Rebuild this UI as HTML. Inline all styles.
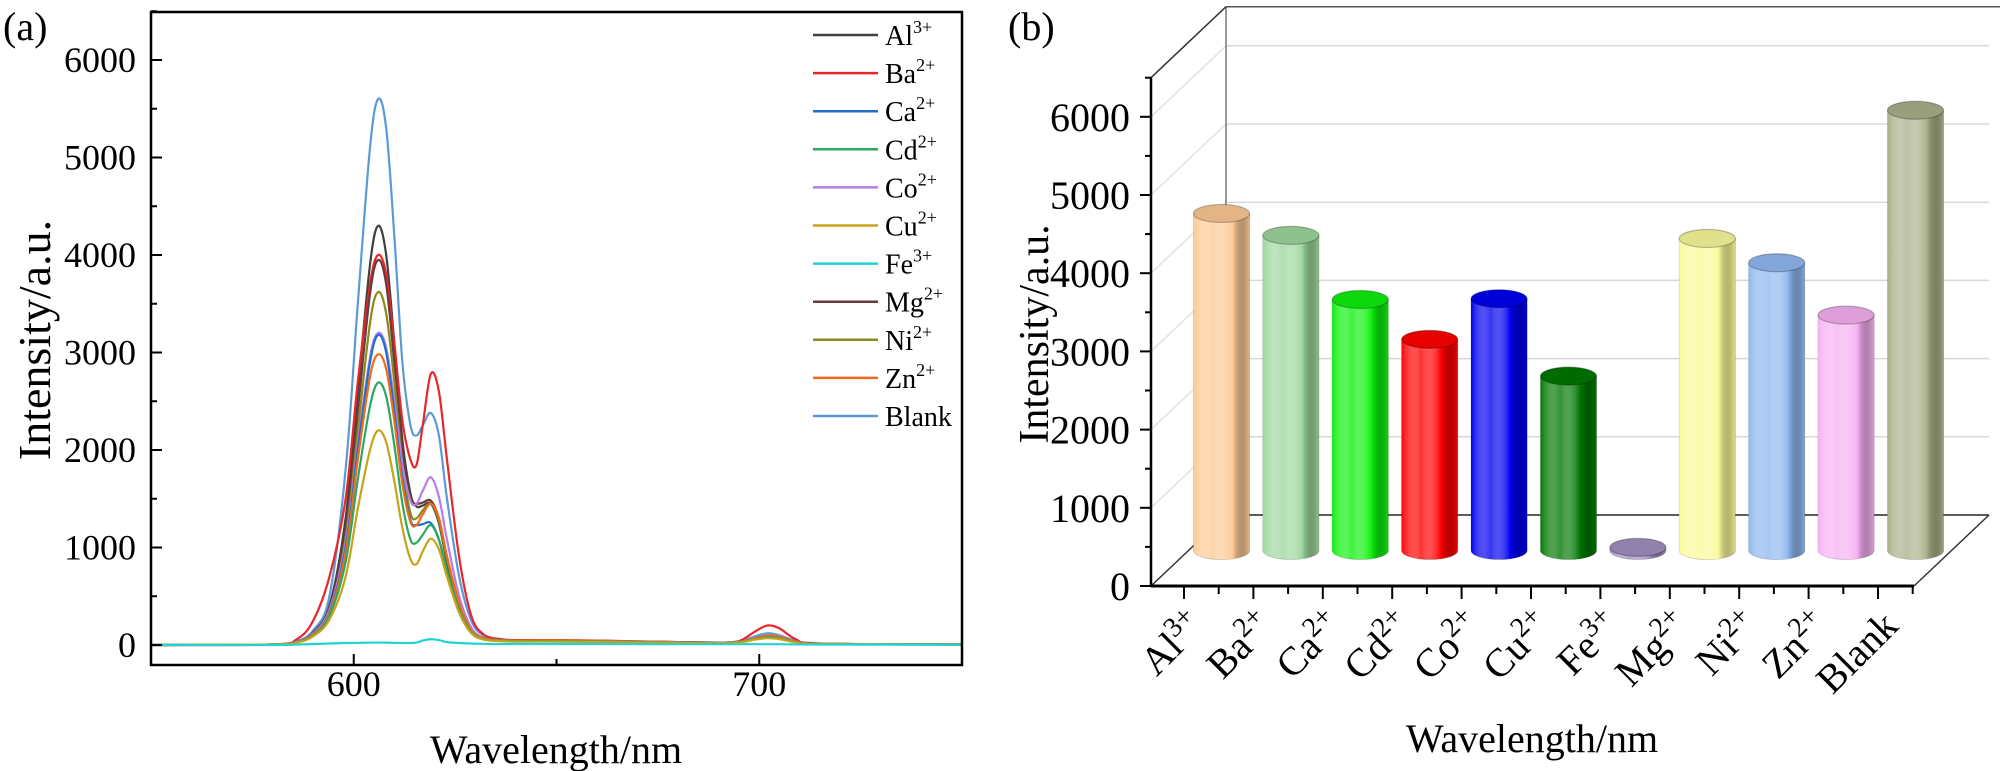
<!DOCTYPE html>
<html><head><meta charset="utf-8"><style>
html,body{margin:0;padding:0;background:#fff;}
svg{display:block;font-family:"Liberation Serif",serif;}
</style></head><body>
<svg id="fig" width="2000" height="771" viewBox="0 0 2000 771" xmlns="http://www.w3.org/2000/svg">
<defs id="defs"></defs>
<g id="panelA"></g>
<g id="panelB"></g>
</svg>
<script>
// ---------- Panel (a) data ----------
const wavelengths = [550,580,586,590,594,598,601,604,606,608,610,612,614,615.5,617,619,621,623,626,629,632,636,640,650,660,680,690,695,699,702,705,709,715,750];
const seriesNames = ["Al","Ba","Ca","Cd","Co","Cu","Fe","Mg","Ni","Zn","Blank"];
const seriesSup = ["3+","2+","2+","2+","2+","2+","3+","2+","2+","2+",""];
const seriesColors = ["#404040","#e8262b","#1f6fd0","#2ca862","#b57ee8","#c9a21a","#22d3d3","#6b3a3a","#8b8a1a","#f26a1b","#5b9bd5"];
const valAl = [0,5,35,130,400,1300,2600,3900,4300,4000,3100,2100,1550,1420,1430,1450,1250,850,400,150,70,50,45,45,40,30,25,30,60,80,70,35,12,5];
const valBa = [0,5,60,250,700,1500,2700,3700,4000,3800,3100,2300,1900,1850,2250,2780,2600,1900,900,300,110,60,50,50,45,30,25,40,140,200,170,60,15,5];
const valCa = [0,5,30,110,330,1000,2000,2900,3180,3000,2400,1700,1280,1230,1240,1250,1080,750,350,130,60,45,40,40,35,25,20,30,65,90,80,35,10,5];
const valCd = [0,5,30,100,300,850,1700,2450,2690,2550,2050,1450,1080,1050,1130,1230,1080,760,360,130,60,45,40,40,35,25,20,30,60,80,70,30,10,5];
const valCo = [0,5,35,120,360,1050,2050,2950,3200,3050,2500,1850,1480,1450,1580,1720,1520,1080,500,180,75,50,45,45,40,28,22,32,75,100,90,38,12,5];
const valCu = [0,5,25,90,260,700,1400,2000,2200,2080,1680,1200,880,830,960,1090,980,700,330,120,55,40,35,35,30,22,18,25,55,70,60,28,10,5];
const valFe = [0,0,5,10,15,20,22,25,25,25,22,20,20,25,45,60,50,30,20,15,12,10,10,10,10,8,8,8,8,8,8,6,5,3];
const valMg = [0,5,35,120,380,1200,2400,3600,3950,3700,2900,2000,1500,1450,1460,1480,1300,900,420,150,70,50,45,45,40,28,22,30,65,90,80,35,12,5];
const valNi = [0,5,30,110,340,1100,2200,3300,3620,3400,2700,1850,1350,1300,1380,1450,1280,880,410,145,65,48,42,42,38,26,20,30,65,85,75,32,10,5];
const valZn = [0,5,30,110,320,950,1900,2750,2980,2830,2300,1650,1260,1230,1340,1450,1300,910,430,150,70,50,45,48,42,28,22,32,70,95,85,35,12,5];
const valBlank = [0,5,40,150,500,1800,3500,5100,5600,5300,4200,2900,2250,2150,2250,2380,2150,1500,700,250,100,60,50,50,45,30,25,35,90,120,100,45,15,5];
const seriesValues = [valAl,valBa,valCa,valCd,valCo,valCu,valFe,valMg,valNi,valZn,valBlank];
const drawOrder = [10,0,1,7,8,4,2,9,3,5,6];
const yTicksA = [0,1000,2000,3000,4000,5000,6000];
const xTicksA = [600,700];

// ---------- Panel (b) data ----------
const barCategories = ["Al","Ba","Ca","Cd","Co","Cu","Fe","Mg","Ni","Zn","Blank"];
const barSup = ["3+","2+","2+","2+","2+","2+","3+","2+","2+","2+",""];
const barValues = [4310,4030,3210,2700,3220,2230,40,3990,3680,3010,5630];
const barColors = ["#fcc995","#9ed69e","#0ef00e","#ff0000","#0000f0","#007800","#a090c0","#fafa9a","#90b8f0","#f7b0f2","#aab08a"];
const yTicksB = [0,1000,2000,3000,4000,5000,6000];

const NS="http://www.w3.org/2000/svg";
function mk(tag, attrs, parent){const e=document.createElementNS(NS,tag);for(const k in attrs)e.setAttribute(k,attrs[k]);if(parent)parent.appendChild(e);return e;}

// ---------- Panel A ----------
const A=document.getElementById('panelA');
const AX0=151, AX1=962, AY0=12, AY1=665;
const xA=l=>AX0+(l-550)*(AX1-AX0)/200;
const yA=v=>645-v*0.0975;

let t=mk('text',{x:3,y:40,'font-size':40},A);t.textContent='(a)';



function smoothPath(pts){
  let d='M'+pts[0][0].toFixed(1)+','+pts[0][1].toFixed(1);
  for(let i=0;i<pts.length-1;i++){
    const p0=pts[Math.max(0,i-1)],p1=pts[i],p2=pts[i+1],p3=pts[Math.min(pts.length-1,i+2)];
    const c1x=p1[0]+(p2[0]-p0[0])/6,c1y=p1[1]+(p2[1]-p0[1])/6;
    const c2x=p2[0]-(p3[0]-p1[0])/6,c2y=p2[1]-(p3[1]-p1[1])/6;
    d+=' C'+c1x.toFixed(1)+','+c1y.toFixed(1)+' '+c2x.toFixed(1)+','+c2y.toFixed(1)+' '+p2[0].toFixed(1)+','+p2[1].toFixed(1);
  }
  return d;
}
const clipA=mk('clipPath',{id:'clipA'},document.getElementById('defs'));
mk('rect',{x:AX0,y:AY0,width:AX1-AX0,height:AY1-AY0},clipA);
const gS=mk('g',{'clip-path':'url(#clipA)'},A);


drawOrder.forEach(si=>{
  const pts=wavelengths.map((w,i)=>[xA(w),yA(seriesValues[si][i])]);
  const p=mk('path',{d:smoothPath(pts),fill:'none',stroke:seriesColors[si],'stroke-width':2.2},gS);
  
  
});

const fr=mk('rect',{x:AX0,y:AY0,width:AX1-AX0,height:AY1-AY0,fill:'none',stroke:'#000','stroke-width':2.5},A);


for(let v=0;v<=6500;v+=500){
  const major=v%1000===0;
  const tk=mk('line',{x1:AX0,x2:AX0+(major?11:6),y1:yA(v),y2:yA(v),stroke:'#000','stroke-width':2},A);
  
  
}
yTicksA.forEach(v=>{
  const l=mk('text',{x:136,y:yA(v)+12,'font-size':36,'text-anchor':'end'},A);l.textContent=v;
  
  
});
[600,650,700].forEach(v=>{
  const major=v%100===0;
  const tk=mk('line',{x1:xA(v),x2:xA(v),y1:AY1,y2:AY1-(major?11:6),stroke:'#000','stroke-width':2},A);
  
  
});
xTicksA.forEach(v=>{
  const l=mk('text',{x:xA(v),y:696,'font-size':36,'text-anchor':'middle'},A);l.textContent=v;
  
  
});
t=mk('text',{x:556,y:763,'font-size':40,'text-anchor':'middle'},A);t.textContent='Wavelength/nm';


t=mk('text',{x:0,y:0,'font-size':46,'text-anchor':'middle',transform:'translate(50,340) rotate(-90)'},A);t.textContent='Intensity/a.u.';



// legend
const lg=mk('g',{},A);


seriesNames.forEach((n,i)=>{
  const y=35+i*38.1;
  const g=mk('g',{},lg);
  
  
  mk('line',{x1:813,x2:878,y1:y,y2:y,stroke:seriesColors[i],'stroke-width':2.5},g);
  const tx=mk('text',{x:885,y:y+10,'font-size':28},g);
  tx.textContent=n;
  if(seriesSup[i]){const s=mk('tspan',{dy:-12,'font-size':18},tx);s.textContent=seriesSup[i];}
});

// ---------- Panel B ----------
const B=document.getElementById('panelB');
const FX0=1151, FX1=1914, FY0=586, DX=75, DY=-71;
const yB=v=>FY0-v*0.0782;
const catX=i=>1184+i*69.4;

t=mk('text',{x:1008,y:40,'font-size':40},B);t.textContent='(b)';



for(let v=1000;v<=6000;v+=1000){
  const gl=mk('line',{x1:FX0+DX,x2:FX1+DX,y1:yB(v)+DY,y2:yB(v)+DY,stroke:'#d8d8d8','stroke-width':1.5},B);
  
  
  const sl=mk('line',{x1:FX0,x2:FX0+DX,y1:yB(v),y2:yB(v)+DY,stroke:'#e2e2e2','stroke-width':1.5},B);
  
  
}
const boxLines=[
 [FX0+DX,yB(6500)+DY,FX0+DX,FY0+DY,'#777',1.5],
 [FX0+DX,yB(6500)+DY,2000,yB(6500)+DY,'#555',1.5],
 [FX0,yB(6500),FX0+DX,yB(6500)+DY,'#333',1.5],
 [FX0+DX,FY0+DY,FX1+DX,FY0+DY,'#444',1.8],
 [FX0,FY0,FX0+DX,FY0+DY,'#333',1.5],
 [FX1,FY0,FX1+DX,FY0+DY,'#333',1.5]
];
boxLines.forEach(b=>{
  const l=mk('line',{x1:b[0],y1:b[1],x2:b[2],y2:b[3],stroke:b[4],'stroke-width':b[5]},B);
  
  
});

const defs=document.getElementById('defs');
const bg=mk('g',{},B);


barValues.forEach((v,i)=>{
  const cx=catX(i)+DX/2, base=FY0+DY/2, top=base-v*0.0782, rx=28, ry=9;
  const gid='cg'+i;
  const gr=mk('linearGradient',{id:gid,x1:0,x2:1,y1:0,y2:0},defs);
  mk('stop',{offset:'0','stop-color':barColors[i],'stop-opacity':1},gr);
  mk('stop',{offset:'0.35','stop-color':'#ffffff','stop-opacity':0.2},gr);
  mk('stop',{offset:'0.7','stop-color':barColors[i],'stop-opacity':1},gr);
  mk('stop',{offset:'1','stop-color':'#000000','stop-opacity':0.08},gr);
  const g=mk('g',{},bg);
  
  
  mk('path',{d:`M${cx-rx},${top} L${cx-rx},${base} A${rx},${ry} 0 0 0 ${cx+rx},${base} L${cx+rx},${top} Z`,fill:barColors[i],stroke:'#00000033','stroke-width':1},g);
  mk('path',{d:`M${cx-rx},${top} L${cx-rx},${base} A${rx},${ry} 0 0 0 ${cx+rx},${base} L${cx+rx},${top} Z`,fill:`url(#${gid})`},g);
  mk('ellipse',{cx:cx,cy:top,rx:rx,ry:ry,fill:barColors[i],stroke:'#00000040','stroke-width':1.2,style:'filter:brightness(0.9)'},g);
});

let l=mk('line',{x1:FX0,x2:FX0,y1:FY0,y2:yB(6500),stroke:'#000','stroke-width':2.5},B);


l=mk('line',{x1:FX0,x2:FX1,y1:FY0,y2:FY0,stroke:'#000','stroke-width':3},B);


for(let v=0;v<=6500;v+=500){
  const major=v%1000===0;
  const tk=mk('line',{x1:FX0,x2:FX0-(major?11:6),y1:yB(v),y2:yB(v),stroke:'#000','stroke-width':2},B);
  
  
}
yTicksB.forEach(v=>{
  const tl=mk('text',{x:1130,y:yB(v)+14,'font-size':40,'text-anchor':'end'},B);tl.textContent=v;
  
  
});
for(let i=0;i<barCategories.length;i++){
  const tk=mk('line',{x1:catX(i),x2:catX(i),y1:FY0,y2:FY0+13,stroke:'#000','stroke-width':2},B);
  
  
  const mx=catX(i)+34.7;
  if(mx<FX1){const m=mk('line',{x1:mx,x2:mx,y1:FY0,y2:FY0+8,stroke:'#000','stroke-width':2},B);
  
  }
  const tx=mk('text',{x:0,y:0,'font-size':40,'text-anchor':'end',transform:`translate(${catX(i)+22},${628}) rotate(-45)`},B);
  tx.textContent=barCategories[i];
  if(barSup[i]){const s=mk('tspan',{dy:-15,'font-size':28},tx);s.textContent=barSup[i];}
  
  
}
t=mk('text',{x:1532,y:752,'font-size':40,'text-anchor':'middle'},B);t.textContent='Wavelength/nm';


t=mk('text',{x:0,y:0,'font-size':42,'text-anchor':'middle',transform:'translate(1048,334) rotate(-90)'},B);t.textContent='Intensity/a.u.';


</script>
</body></html>
